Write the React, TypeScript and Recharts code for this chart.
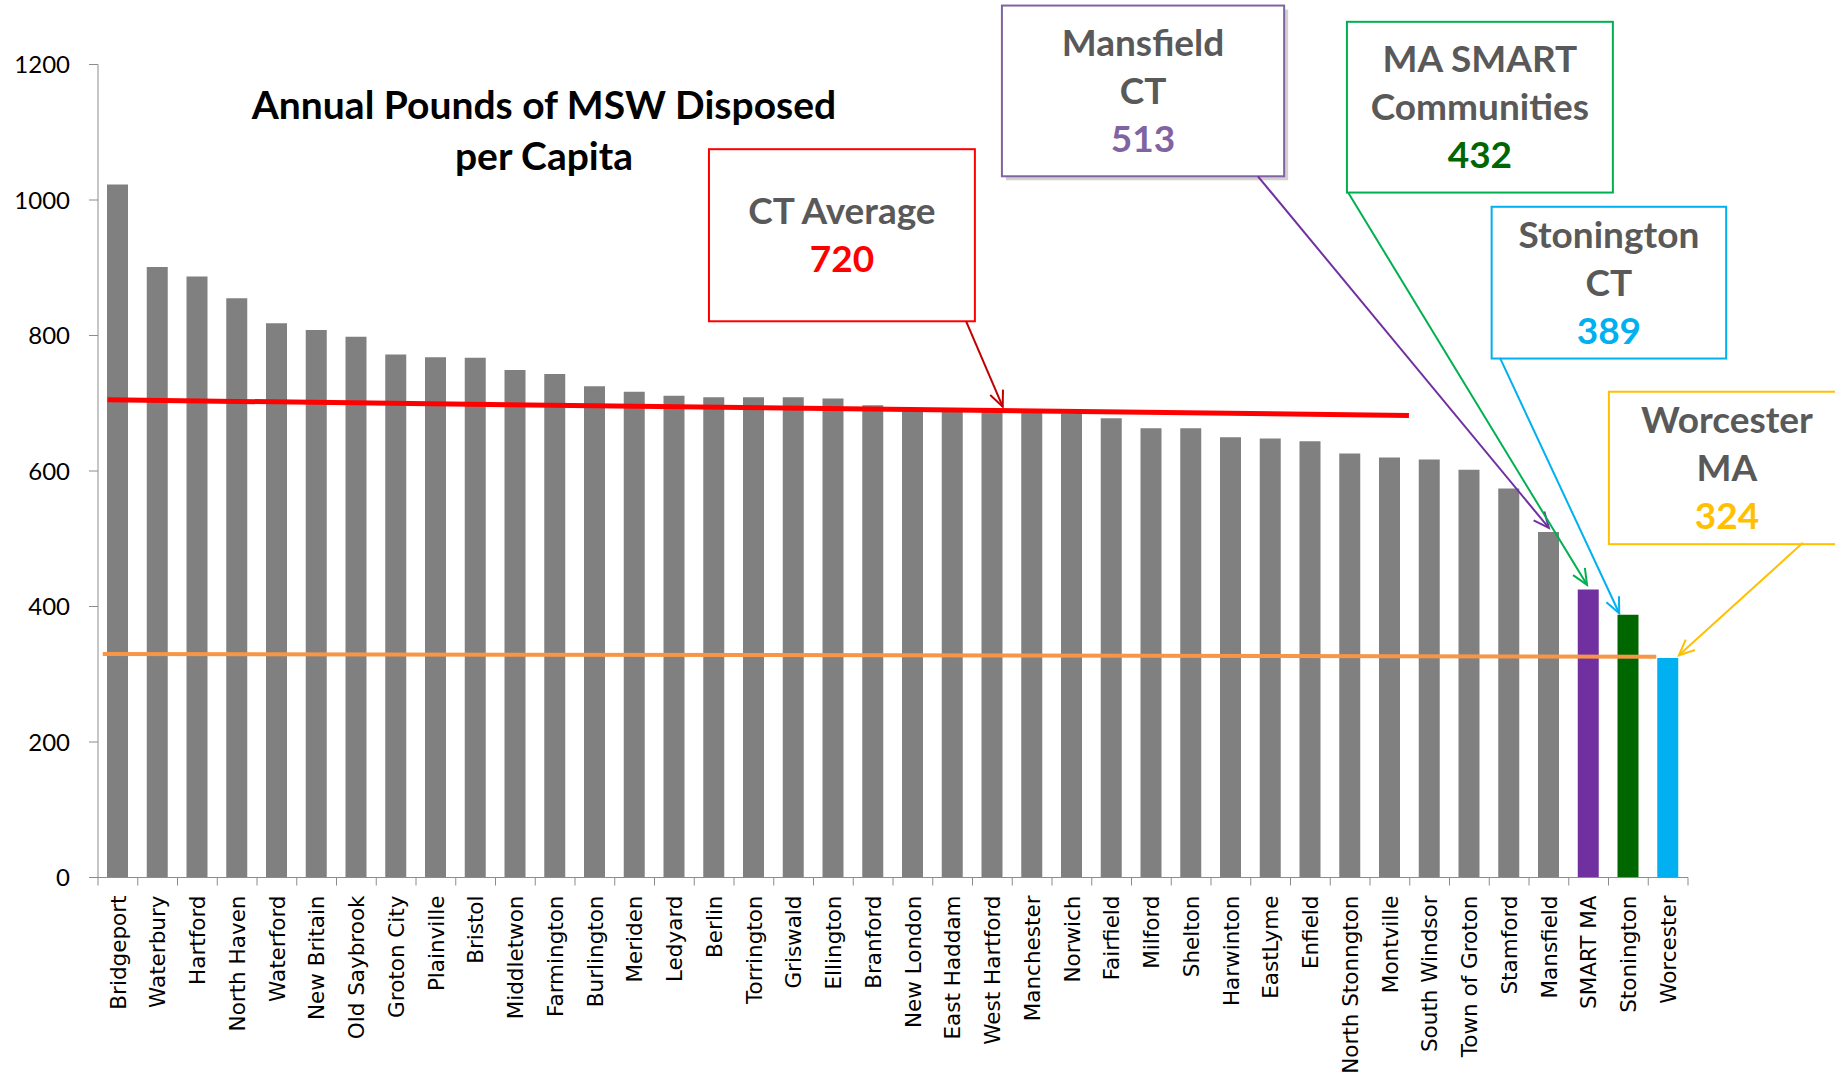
import { BarChart, Bar, XAxis, YAxis, Cell, ReferenceLine, ReferenceArea } from 'recharts';

const towns = [
  'Bridgeport', 'Waterbury', 'Hartford', 'North Haven', 'Waterford', 'New Britain',
  'Old Saybrook', 'Groton City', 'Plainville', 'Bristol', 'Middletwon', 'Farmington',
  'Burlington', 'Meriden', 'Ledyard', 'Berlin', 'Torrington', 'Griswald', 'Ellington',
  'Branford', 'New London', 'East Haddam', 'West Hartford', 'Manchester', 'Norwich',
  'Fairfield', 'Milford', 'Shelton', 'Harwinton', 'EastLyme', 'Enfield',
  'North Stonngton', 'Montville', 'South Windsor', 'Town of Groton', 'Stamford',
  'Mansfield', 'SMART MA', 'Stonington', 'Worcester',
];
const lbsPerCapita = [
  1023, 901, 887, 855, 818, 808, 798, 772, 768, 767, 749, 743, 725, 717, 711, 709, 709,
  709, 707, 697, 690, 689, 688, 687, 685, 678, 663, 663, 650, 648, 644, 626, 620, 617,
  602, 574, 510, 425, 388, 324,
];
const yTicks = [0, 200, 400, 600, 800, 1000, 1200];

// guide lines, as [category position, lbs] pairs
const ctAverageLine = [{ pos: 0.24, lbs: 705 }, { pos: 32.98, lbs: 682 }];
const maAverageLine = [{ pos: 0.12, lbs: 330 }, { pos: 39.2, lbs: 326 }];

const calloutLabels = [['CT Average'], ['Mansfield', 'CT'], ['MA SMART', 'Communities'], ['Stonington', 'CT'], ['Worcester', 'MA']];
const calloutValues = ['720', '513', '432', '389', '324'];

// slot = centre of each category on the hidden numeric axis
const data = towns.map((town, i) => ({ town, slot: i + 0.5, lbs: lbsPerCapita[i] }));

// layout of the callouts, in chart data coordinates
const calloutLayout = [
  { box: [15.37, 22.06, 821, 1075], from: [21.84, 821], to: [22.76, 695], border: '#FF0000', value: '#FF0000', arrow: '#C00000' },
  { box: [22.74, 29.84, 1035, 1287], from: [29.18, 1035], to: [36.5, 516], border: '#8064A2', value: '#8064A2', arrow: '#7030A0', shadow: true },
  { box: [31.42, 38.11, 1011, 1263], from: [31.45, 1011], to: [37.46, 432], border: '#00B050', value: '#006600', arrow: '#00B050' },
  { box: [35.06, 40.96, 766, 990], from: [35.27, 767], to: [38.27, 390], border: '#00B0F0', value: '#00B0F0', arrow: '#00B0F0' },
  { box: [38.01, 43.95, 492, 717], from: [42.89, 494], to: [39.77, 328], border: '#FFC000', value: '#FFC000', arrow: '#FFC000' },
];

const barColors: Record<string, string> = {
  'SMART MA': '#7030A0',
  Stonington: '#006600',
  Worcester: '#00B0F0',
};
const AXIS = '#8c8c8c';
const LABEL_FONT = 'Lato, "Open Sans", sans-serif';

function TownTick(props: any) {
  const { x, y, payload, index } = props;
  const half = payload?.offset || 19.875;
  return (
    <g>
      <line x1={x - half} x2={x - half} y1={y} y2={y + 8} stroke={AXIS} />
      {index === towns.length - 1 && <line x1={x + half} x2={x + half} y1={y} y2={y + 8} stroke={AXIS} />}
      <text
        transform={`translate(${x},${y + 18}) rotate(-90)`}
        textAnchor="end"
        dy="0.36em"
        fontFamily='"DejaVu Sans", sans-serif'
        fontSize={21.5}
        fill="#000"
      >
        {payload.value}
      </text>
    </g>
  );
}

function arrowShape(color: string) {
  return (p: any) => {
    const { x1, y1, x2, y2 } = p;
    const ang = Math.atan2(y2 - y1, x2 - x1);
    const len = 17;
    const a1 = ang + Math.PI - 0.42;
    const a2 = ang + Math.PI + 0.42;
    const head = `${x2 + len * Math.cos(a1)},${y2 + len * Math.sin(a1)} ${x2},${y2} ${x2 + len * Math.cos(a2)},${y2 + len * Math.sin(a2)}`;
    return (
      <g>
        <line x1={x1} y1={y1} x2={x2} y2={y2} stroke={color} strokeWidth={2} />
        <polyline points={head} fill="none" stroke={color} strokeWidth={2} />
      </g>
    );
  };
}

function calloutShape(i: number) {
  return (p: any) => {
    const { x, y, width, height } = p;
    const c = calloutLayout[i];
    const lines = calloutLabels[i];
    const n = lines.length + 1;
    const first = y + (height - n * 48) / 2 + 37;
    const cx = x + width / 2;
    return (
      <g>
        {c.shadow && (
          <rect x={x + 4} y={y + 4} width={width} height={height} fill="#9a9a9a" opacity={0.45} />
        )}
        <rect x={x} y={y} width={width} height={height} fill="#fff" stroke={c.border} strokeWidth={2} />
        {lines.map((t, k) => (
          <text key={t} x={cx} y={first + k * 48} textAnchor="middle" fontFamily={LABEL_FONT} fontWeight={700} fontSize={37} fill="#595959">
            {t}
          </text>
        ))}
        <text x={cx} y={first + lines.length * 48} textAnchor="middle" fontFamily={LABEL_FONT} fontWeight={700} fontSize={37} fill={c.value}>
          {calloutValues[i]}
        </text>
      </g>
    );
  };
}

export default function App() {
  return (
    <div style={{ position: 'absolute', left: 0, top: 0, width: 1835, height: 1077, background: '#fff', overflow: 'hidden' }}>
      <BarChart
        width={1835}
        height={1077}
        data={data}
        margin={{ top: 64.5, right: 147, bottom: 9.5, left: 0 }}
        barSize={21}
      >
        <XAxis
          dataKey="town"
          interval={0}
          height={190}
          tickSize={0}
          tickMargin={0}
          tickLine={false}
          axisLine={{ stroke: AXIS }}
          tick={<TownTick />}
        />
        <XAxis xAxisId="num" dataKey="slot" type="number" domain={[0, 40]} allowDataOverflow hide />
        <YAxis
          domain={[0, 1200]}
          ticks={yTicks}
          interval={0}
          width={98}
          tickSize={9}
          tickMargin={19}
          axisLine={{ stroke: AXIS }}
          tickLine={{ stroke: AXIS }}
          tick={{ fill: '#000', fontSize: 24, fontFamily: LABEL_FONT }}
          allowDataOverflow
        />
        <Bar dataKey="lbs" isAnimationActive={false}>
          {data.map((d) => (
            <Cell key={d.town} fill={barColors[d.town] ?? '#808080'} />
          ))}
        </Bar>
        <ReferenceLine
          xAxisId="num"
          segment={ctAverageLine.map((p) => ({ x: p.pos, y: p.lbs }))}
          stroke="#FF0000"
          strokeWidth={5}
          ifOverflow="visible"
        />
        <ReferenceLine
          xAxisId="num"
          segment={maAverageLine.map((p) => ({ x: p.pos, y: p.lbs }))}
          stroke="#F79646"
          strokeWidth={4}
          ifOverflow="visible"
        />
        {calloutLayout.map((c, i) => (
          <ReferenceArea
            key={'box' + i}
            xAxisId="num"
            x1={c.box[0]}
            x2={c.box[1]}
            y1={c.box[2]}
            y2={c.box[3]}
            ifOverflow="visible"
            shape={calloutShape(i)}
          />
        ))}
        {calloutLayout.map((c, i) => (
          <ReferenceLine
            key={'arrow' + i}
            xAxisId="num"
            segment={[{ x: c.from[0], y: c.from[1] }, { x: c.to[0], y: c.to[1] }]}
            ifOverflow="visible"
            shape={arrowShape(c.arrow)}
          />
        ))}
      </BarChart>
      <svg width={1835} height={1077} style={{ position: 'absolute', left: 0, top: 0, pointerEvents: 'none' }}>
        <text x={544} y={119} textAnchor="middle" fontFamily={LABEL_FONT} fontWeight={700} fontSize={39} fill="#000">
          Annual Pounds of MSW Disposed
        </text>
        <text x={544} y={170} textAnchor="middle" fontFamily={LABEL_FONT} fontWeight={700} fontSize={39} fill="#000">
          per Capita
        </text>
      </svg>
    </div>
  );
}
